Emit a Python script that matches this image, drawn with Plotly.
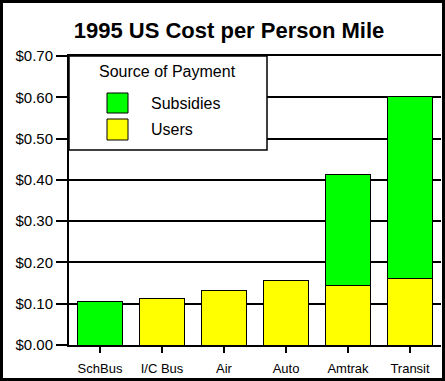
import plotly.graph_objects as go

categories = ["SchBus", "I/C Bus", "Air", "Auto", "Amtrak", "Transit"]
users = [None, 0.113, 0.131, 0.157, 0.145, 0.161]
subsidies = [0.106, None, None, None, 0.269, 0.442]
y_ticks = [0, 0.1, 0.2, 0.3, 0.4, 0.5, 0.6, 0.7]

W, H = 445, 381
L, R, T, B = 69, 4, 56, 36
PW, PH = W - L - R, H - T - B
FONT = "Liberation Sans, Arial, sans-serif"


def px(x):
    return (x - L) / PW


def py(y):
    return 1 - (y - T) / PH


fig = go.Figure()
fig.add_trace(go.Bar(x=categories, y=users, name="Users",
                     marker=dict(color="#FFFF00", line=dict(color="black", width=1))))
fig.add_trace(go.Bar(x=categories, y=subsidies, name="Subsidies",
                     marker=dict(color="#00FF00", line=dict(color="black", width=1))))

shapes = [
    # legend box
    dict(type="rect", xref="paper", yref="paper", x0=px(69), x1=px(267), y0=py(150), y1=py(56),
         fillcolor="white", line=dict(color="black", width=1.5), layer="above"),
    dict(type="rect", xref="paper", yref="paper", x0=px(107), x1=px(128), y0=py(113), y1=py(93),
         fillcolor="#00FF00", line=dict(color="black", width=1), layer="above"),
    dict(type="rect", xref="paper", yref="paper", x0=px(107), x1=px(128), y0=py(140), y1=py(119),
         fillcolor="#FFFF00", line=dict(color="black", width=1), layer="above"),
    # outer frame
    dict(type="rect", xref="paper", yref="paper", x0=px(1.5), x1=px(443.5), y0=py(379.5), y1=py(1.5),
         fillcolor="rgba(0,0,0,0)", line=dict(color="black", width=3), layer="above"),
]

annotations = [
    dict(text="Source of Payment", xref="paper", yref="paper", x=px(167), y=py(72),
         xanchor="center", yanchor="middle", showarrow=False, font=dict(size=16, color="black", family=FONT)),
    dict(text="Subsidies", xref="paper", yref="paper", x=px(149), y=py(103),
         xanchor="left", yanchor="middle", showarrow=False, font=dict(size=16, color="black", family=FONT)),
    dict(text="Users", xref="paper", yref="paper", x=px(149), y=py(130),
         xanchor="left", yanchor="middle", showarrow=False, font=dict(size=16, color="black", family=FONT)),
]

fig.update_layout(
    width=W, height=H,
    margin=dict(l=L, r=R, t=T, b=B, autoexpand=False),
    paper_bgcolor="white", plot_bgcolor="white",
    barmode="stack", bargap=0.26,
    showlegend=False,
    title=dict(text="<b>1995 US Cost per Person Mile</b>", x=229 / W, xref="container", xanchor="center",
               y=1 - 30 / H, yanchor="middle", yref="container",
               font=dict(size=22, color="black", family=FONT)),
    font=dict(family=FONT, color="black"),
    shapes=shapes,
    annotations=annotations,
    xaxis=dict(showline=True, linecolor="black", linewidth=2, mirror=True,
               ticks="outside", ticklen=6, tickwidth=1.5, tickcolor="black",
               ticklabelstandoff=4,
               tickfont=dict(size=13, family=FONT, color="black"), showgrid=False),
    yaxis=dict(range=[0, 0.7], tickvals=y_ticks, tickformat="$.2f",
               showline=True, linecolor="black", linewidth=2,
               ticks="outside", ticklen=11, tickwidth=2, tickcolor="black",
               showgrid=True, gridcolor="black", gridwidth=2, zeroline=False,
               tickfont=dict(size=15, family=FONT, color="black")),
)

fig.write_html("out.html", config={"displayModeBar": False, "staticPlot": True})

with open("out.html", "r", encoding="utf-8") as f:
    html = f.read()
html = html.replace("<head>", "<head><style>html,body{margin:0;padding:0;overflow:hidden;}</style>", 1)
with open("out.html", "w", encoding="utf-8") as f:
    f.write(html)
